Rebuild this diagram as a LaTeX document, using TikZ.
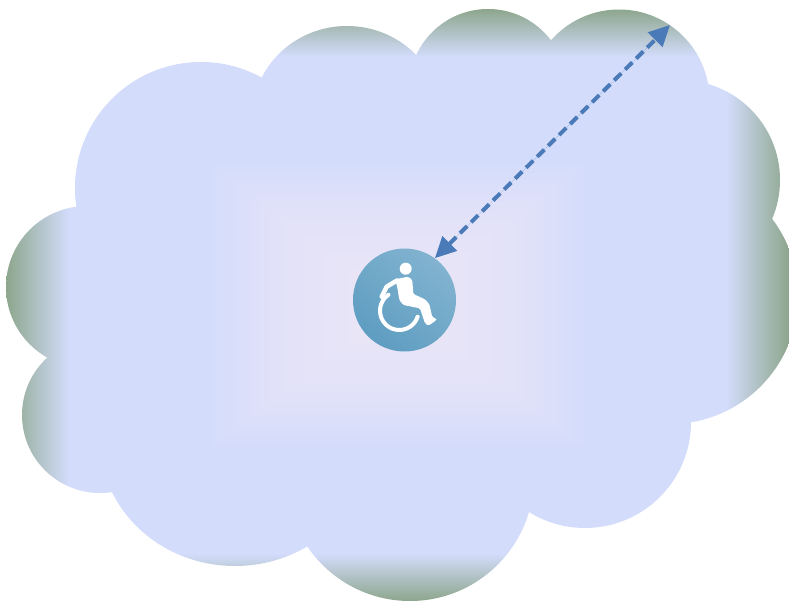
\documentclass[tikz,border=0pt]{standalone}
\usepackage{xcolor}
\usetikzlibrary{arrows.meta}
\definecolor{arrowblue}{HTML}{4A7AB8}
\definecolor{iconlight}{HTML}{82B3D0}
\definecolor{icondark}{HTML}{5E9DC1}
% rectangular path gradient of the cloud: centre, glow, plateau, green rim
\pgfdeclarefunctionalshading{cloudrect}{\pgfpointorigin}{\pgfpoint{100bp}{100bp}}{}{
  50 sub abs exch 50 sub abs 2 copy lt {exch} if pop 25 div
  dup 0.33 lt
  {0.33 div dup dup -0.05 mul 0.93 add 3 1 roll -0.023 mul 0.905 add exch 0.012 mul 0.965 add}
  {dup 0.49 lt
    {0.33 sub 0.16 div dup dup -0.053 mul 0.88 add 3 1 roll -0.019 mul 0.882 add exch 0.007 mul 0.977 add}
    {dup 0.84 lt
      {pop 0.827 0.863 0.984}
      {0.84 sub 0.16 div dup dup -0.277 mul 0.827 add 3 1 roll -0.213 mul 0.863 add exch -0.434 mul 0.984 add}
      ifelse}
    ifelse}
  ifelse
}
\tikzset{
  limb/.style  ={draw=white, line cap=round, line join=round},
  reach/.style ={{Triangle[length=21pt,width=20pt]}-{Triangle[length=21pt,width=20pt]},
                 draw=arrowblue, fill=arrowblue, line width=4pt, dash pattern=on 10pt off 5.5pt},
}

\begin{document}
\begin{tikzpicture}[x=1pt,y=-1pt]
  \useasboundingbox (0,0) rectangle (789,601);

  % cloud: lobes around an inner polygon
  \begin{scope}
    \clip (100,215) -- (265,95) -- (417,70) -- (552,60) -- (695,100) -- (750,220)
       -- (680,400) -- (525,495) -- (310,525) -- (125,470) -- (65,358) -- cycle
       \foreach \cx/\cy/\rx/\ry in {201/188/126/126, 347/118/95/92, 488/88/79/79, 619/100/90.5/90.5,
                                    680/180/100/100, 670/296/128/128, 585/422/106/106, 410/477/124/124,
                                    235/440/135/126, 100/415/78/78, 87/287/81/81}
         { (\cx,\cy) ellipse[x radius=\rx, y radius=\ry] };
    \shade[shading=cloudrect] (6,9) rectangle (789,601);
  \end{scope}

  % user in a wheelchair
  \node[circle, minimum size=103pt, inner sep=0pt, top color=iconlight, bottom color=icondark,
        shading angle=-40] (user) at (404.5,300) {};
  \fill[white] (405.7,268.7) circle[radius=6];
  \fill[white, rounded corners=1.5pt] (395,279.3) -- (408.3,276.7) -- (412.3,280) -- (413.3,294)
       -- (425,299.3) -- (429.3,304) -- (432.3,317.3) -- (436,318.3) -- (436.7,320) -- (428.3,325.7)
       -- (425,323.3) -- (420,308.3) -- (403.3,305) -- (399.3,300) -- (397.3,287.3) -- cycle;
  \draw[limb, line width=4.5pt] (397,280.5) -- (386.7,286.7) -- (381.7,296.7);
  \draw[limb, line width=4pt] (388.5,294.7) arc[start angle=-124, end angle=-342, radius=19.3];

  % reach of the signal
  \coordinate (rim) at (670,25);
  \draw[reach] (user.54) -- (rim);
\end{tikzpicture}
\end{document}
